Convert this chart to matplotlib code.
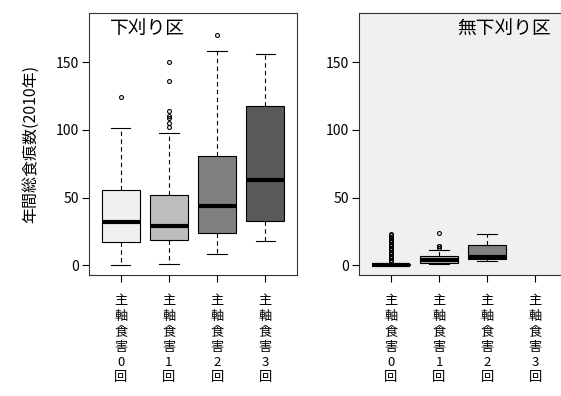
import matplotlib
matplotlib.use("Agg")
import matplotlib.pyplot as plt

plt.rcParams['font.family'] = ['Noto Sans CJK JP', 'DejaVu Sans']

# x categories
labels = ["主\n軸\n食\n害\n0\n回", "主\n軸\n食\n害\n1\n回", "主\n軸\n食\n害\n2\n回", "主\n軸\n食\n害\n3\n回"]
box_colors = ["#f0f0f0", "#bdbdbd", "#808080", "#595959"]

# 下刈り区 (weeded plot): whisker low, Q1, median, Q3, whisker high, outliers
cut_low = [0, 1, 8, 18]
cut_q1 = [17, 19, 24, 33]
cut_med = [32, 29, 43.5, 63]
cut_q3 = [55.5, 52, 81, 117.5]
cut_high = [101, 98, 158.5, 156]
cut_out = [[124], [150, 136, 114, 110, 109, 105, 102], [170], []]

# 無下刈り区 (unweeded plot), no data for 3 times
nocut_low = [0, 1, 3]
nocut_q1 = [0, 1.5, 4.5]
nocut_med = [0.5, 4, 6]
nocut_q3 = [1, 6.5, 15]
nocut_high = [2, 11, 23]
nocut_out = [[3, 4, 5, 6, 7, 8, 9, 10, 11, 12, 13, 14, 15, 16, 17, 18, 19, 20, 21, 22, 23],
             [13, 14, 14.5, 24], []]


def make_stats(low, q1, med, q3, high, out):
    stats = []
    for i in range(len(med)):
        stats.append(dict(whislo=low[i], q1=q1[i], med=med[i], q3=q3[i],
                          whishi=high[i], fliers=out[i]))
    return stats


fig = plt.figure(figsize=(5.61, 3.96), dpi=100)
ax1 = fig.add_axes([0.1586, 0.3056, 0.3708, 0.6616])
ax2 = fig.add_axes([0.64, 0.3056, 0.3708, 0.6616])


def draw(ax, stats, pos):
    bp = ax.bxp(stats, positions=pos, widths=0.78, patch_artist=True,
                capwidths=0.4, manage_ticks=False,
                boxprops=dict(edgecolor='black', linewidth=0.8),
                medianprops=dict(color='black', linewidth=3),
                whiskerprops=dict(color='black', linewidth=0.8, linestyle=(0, (4, 3))),
                capprops=dict(color='black', linewidth=0.8),
                flierprops=dict(marker='o', markersize=2.8, markerfacecolor='none',
                                markeredgecolor='black', markeredgewidth=0.8))
    for patch, c in zip(bp['boxes'], box_colors):
        patch.set_facecolor(c)


draw(ax1, make_stats(cut_low, cut_q1, cut_med, cut_q3, cut_high, cut_out), [1, 2, 3, 4])
draw(ax2, make_stats(nocut_low, nocut_q1, nocut_med, nocut_q3, nocut_high, nocut_out), [1, 2, 3])

ax2.set_facecolor('#f0f0f0')

for ax in (ax1, ax2):
    ax.set_xlim(0.34, 4.66)
    ax.set_ylim(-7.2, 186.3)
    ax.set_yticks([0, 50, 100, 150])
    ax.set_xticks([1, 2, 3, 4])
    ax.set_xticklabels(labels, fontsize=9.5, linespacing=1.24, va='top')
    ax.tick_params(axis='y', labelsize=10, length=5, width=0.8, pad=2)
    ax.tick_params(axis='x', length=5, width=0.8, pad=9)
    for s in ax.spines.values():
        s.set_linewidth(0.8)
        s.set_color('#333333')

ax1.text(0.10, 0.941, "下刈り区", transform=ax1.transAxes, fontsize=13.5,
         ha='left', va='center')
ax2.text(0.923, 0.941, "無下刈り区", transform=ax2.transAxes, fontsize=13.5,
         ha='right', va='center')

ax1.set_ylabel("年間総食痕数(2010年)", fontsize=11.5, labelpad=12)

fig.savefig("out.png", dpi=100)
